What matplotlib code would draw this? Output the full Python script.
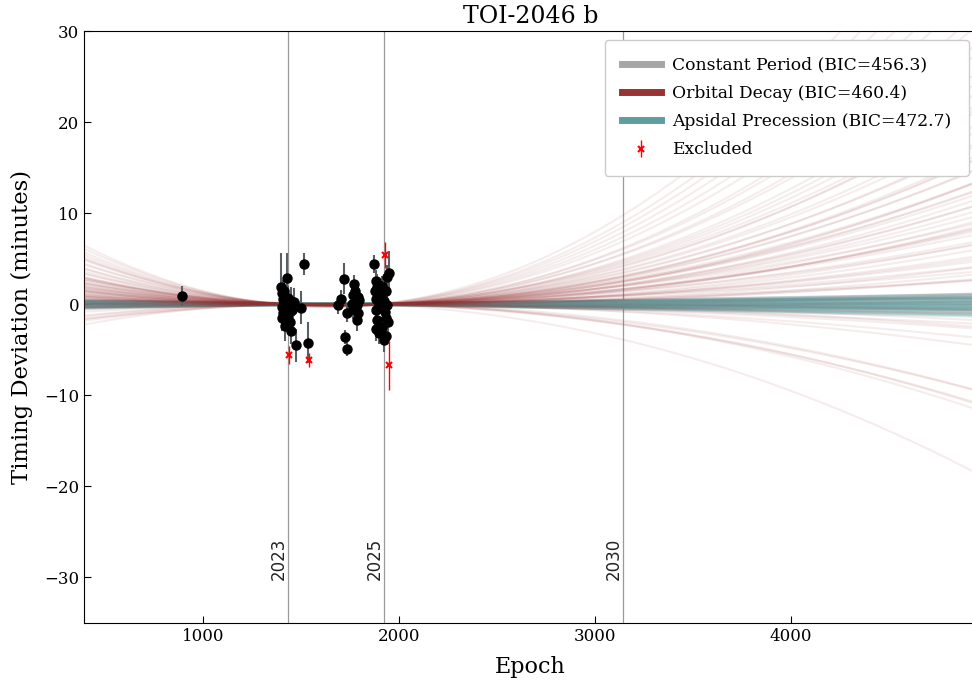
import matplotlib
matplotlib.use("Agg")
import matplotlib.pyplot as plt
from matplotlib.lines import Line2D
import numpy as np

plt.rcParams['font.family'] = ['DejaVu Serif']

# ---------------- data ----------------
epochs = [893,
          1396, 1425, 1400, 1405, 1410, 1400, 1417, 1402, 1425, 1417, 1434, 1437, 1430, 1412,
          1445, 1451, 1461, 1447, 1440, 1474, 1498, 1515, 1532, 1420, 1408, 1428,
          1716, 1704, 1687, 1733, 1721, 1733, 1770, 1776, 1765, 1790, 1772, 1786, 1765, 1790,
          1784, 1760, 1795,
          1871, 1947, 1939, 1883, 1888, 1913, 1876, 1905, 1930, 1883, 1922, 1896, 1939, 1879,
          1927, 1888, 1934, 1879, 1913, 1896, 1922, 1930, 1944]
ttv = [0.9,
       1.9, 2.9, 1.2, 0.6, 0.2, -0.3, -0.7, -1.5, -1.7, -2.4, -1.3, 0.0, 0.7, 1.5,
       0.4, -0.6, 0.25, -2.9, -2.0, -4.5, -0.37, 4.4, -4.2, 0.3, -1.0, -0.4,
       2.8, 0.6, -0.1, -0.95, -3.6, -4.9, 2.2, 1.5, 1.0, 0.8, 0.3, -0.1, -0.5, -1.0,
       -1.75, 0.0, 0.5,
       4.4, 3.4, 3.0, 2.6, 1.9, 2.0, 1.5, 1.1, 1.5, 0.6, 0.4, 0.05, -0.1, -0.6,
       -0.8, -1.75, -1.5, -2.7, -2.5, -3.2, -3.9, -3.5, -2.0]
ttv_err = [1.1,
           3.7, 2.7, 1.5, 1.2, 1.0, 1.3, 1.1, 1.4, 1.2, 1.6, 1.2, 1.0, 1.3, 1.4,
           1.5, 1.3, 1.5, 1.5, 1.4, 1.8, 1.8, 1.2, 2.3, 1.0, 1.2, 1.1,
           1.7, 1.0, 1.0, 1.0, 0.8, 0.8, 1.0, 1.2, 1.0, 1.1, 0.9, 1.0, 1.1, 1.0,
           1.2, 0.9, 1.0,
           1.0, 2.4, 1.3, 1.2, 1.4, 1.1, 1.3, 1.0, 1.6, 1.2, 1.1, 1.0, 1.3, 1.2,
           1.1, 1.4, 1.2, 1.3, 1.1, 1.2, 1.3, 1.0, 1.2]

excl_epochs = [1437, 1539, 1927, 1947]
excl_ttv = [-5.6, -6.1, 5.4, -6.7]
excl_err = [1.0, 0.8, 1.4, 2.7]

# posterior samples of the three timing models
anchor_a, anchor_b, ref_epoch = 1420, 1930, 1675
decay_curv = [0.08, 0.14, 0.19, 0.23, 0.29, 0.34, 0.37, 0.42, 0.47, 0.51, 0.56, 0.60, 0.63,
              0.68, 0.72, 0.77, 0.81, 0.86, 0.90, 0.95, 0.99, 1.04, 1.09, 1.13, 1.18, 1.24,
              1.29, 1.35, 1.41, 1.47, 1.54, 1.61, 1.69, 1.77, 1.86, 1.95, 2.05, 2.16, 2.28,
              2.41, 2.55, 2.70, 2.86, 3.03, 3.21, 3.40, 3.62, 3.85, 4.10, 4.40, 0.45, 0.66,
              0.88, 1.10, 1.32, 0.26, 1.58, 2.00, 0.12, 0.75,
              -0.05, -0.09, -0.14, -0.18, -0.22, -0.27, -0.33, -0.45, -0.86, -0.92, -0.97,
              -1.03, -1.10, -1.65]
decay_slope = [0.10, -0.15, 0.20, 0.05, -0.10, 0.15, -0.20, 0.08, 0.00, -0.05, 0.18, -0.12, 0.06,
               -0.18, 0.12, 0.02, -0.08, 0.16, -0.14, 0.04, 0.10, -0.06, 0.14, -0.16, 0.00, 0.08,
               -0.10, 0.12, -0.04, 0.06, -0.12, 0.10, -0.08, 0.04, -0.02, 0.12, -0.10, 0.06, 0.00,
               -0.08, 0.10, -0.05, 0.05, -0.10, 0.15, 0.20, 0.25, 0.30, 0.30, 0.40, -0.22, 0.20,
               -0.25, 0.22, -0.20, 0.25, -0.15, 0.18, -0.28, 0.28,
               -0.15, 0.10, -0.20, 0.05, -0.10, 0.12, -0.05, 0.08, -0.10, 0.10, -0.15, 0.00,
               0.05, -0.30]
const_slope = [-0.34, -0.28, -0.22, -0.16, -0.10, -0.05, 0.00, 0.05, 0.10, 0.16, 0.22, 0.28, 0.34,
               -0.13, 0.13, -0.02, 0.02, -0.25, 0.25]
const_offset = [0.05, -0.05, 0.10, -0.08, 0.03, 0.00, -0.03, 0.08, -0.10, 0.05, -0.05, 0.02, -0.02,
                0.06, -0.06, 0.04, -0.04, 0.00, 0.00]
aps_curv = [-0.03, -0.02, -0.01, 0.00, 0.01, 0.02, 0.03, -0.025, 0.025, -0.015, 0.015, 0.005,
            -0.005, 0.02, -0.02, 0.00, 0.01, -0.01, 0.03, -0.03, 0.00, 0.015, -0.015, 0.005,
            -0.005, 0.02, -0.02, 0.01, -0.01, 0.00, 0.025]
aps_slope = [0.30, -0.30, 0.25, -0.25, 0.20, -0.20, 0.15, -0.15, 0.10, -0.10, 0.05, -0.05, 0.00,
             0.28, -0.28, 0.22, -0.22, 0.18, -0.18, 0.12, -0.12, 0.08, -0.08, 0.03, -0.03,
             0.26, -0.34, 0.16, -0.14, 0.06, -0.06]

year_labels = ['2023', '2025', '2030']
year_epochs = [1434, 1923, 3143]

bic_const, bic_decay, bic_aps = 456.3, 460.4, 472.7

# ---------------- plot ----------------
fig = plt.figure(figsize=(9.72, 6.85), dpi=100)
ax = fig.add_axes([0.0864, 0.0905, 0.9188, 0.8642])

xlim = (390, 4950)
E = np.linspace(xlim[0], xlim[1], 700)
dE = (E - ref_epoch) / 1000.0
ab = (E - anchor_a) * (E - anchor_b) / 1e6

c_gray = '#a6a6a6'
c_red = '#993333'
c_teal = '#5f9ea0'

for s, o in zip(const_slope, const_offset):
    ax.plot(E, o + s * dE, color=c_gray, alpha=0.25, lw=1.5, zorder=1)
for q, s in zip(aps_curv, aps_slope):
    ax.plot(E, q * dE**2 + s * dE, color=c_teal, alpha=0.22, lw=2.0, zorder=2)
for q, s in zip(decay_curv, decay_slope):
    ax.plot(E, q * ab + s * dE, color=c_red, alpha=0.09, lw=1.5, zorder=3)

for lab, ye in zip(year_labels, year_epochs):
    ax.axvline(ye, color='#999999', lw=0.9, zorder=0)
    ax.text(ye - 2, -30.3, lab, rotation=90, ha='right', va='bottom',
            fontsize=12, family='DejaVu Sans', color='#222222')

ax.errorbar(epochs, ttv, yerr=ttv_err, fmt='o', color='black', ms=6.5,
            ecolor='#5a5f66', elinewidth=1.5, capsize=0, zorder=5)
eb = ax.errorbar(excl_epochs, excl_ttv, yerr=excl_err, fmt='x', color='red', ms=5,
                 ecolor='red', elinewidth=1.0, mew=1.5, capsize=0, zorder=6)

handles = [Line2D([], [], color=c_gray, lw=5),
           Line2D([], [], color=c_red, lw=5),
           Line2D([], [], color=c_teal, lw=5),
           eb]
labels = [f'Constant Period (BIC={bic_const})',
          f'Orbital Decay (BIC={bic_decay})',
          f'Apsidal Precession (BIC={bic_aps})',
          'Excluded']
leg = ax.legend(handles, labels, loc='upper right', fontsize=12.3, borderpad=1.0,
                labelspacing=0.66, handlelength=2.3, handletextpad=0.65,
                borderaxespad=0.5, framealpha=1.0)

ax.set_xlim(*xlim)
ax.set_ylim(-35, 30)
ax.set_xticks([1000, 2000, 3000, 4000])
ax.set_yticks([-30, -20, -10, 0, 10, 20, 30])
ax.tick_params(direction='in', labelsize=12, length=5)
ax.set_title('TOI-2046 b', fontsize=17)
ax.set_xlabel('Epoch', fontsize=16, labelpad=8)
ax.set_ylabel('Timing Deviation (minutes)', fontsize=16.3, labelpad=8)

fig.savefig('out.png', dpi=100)
